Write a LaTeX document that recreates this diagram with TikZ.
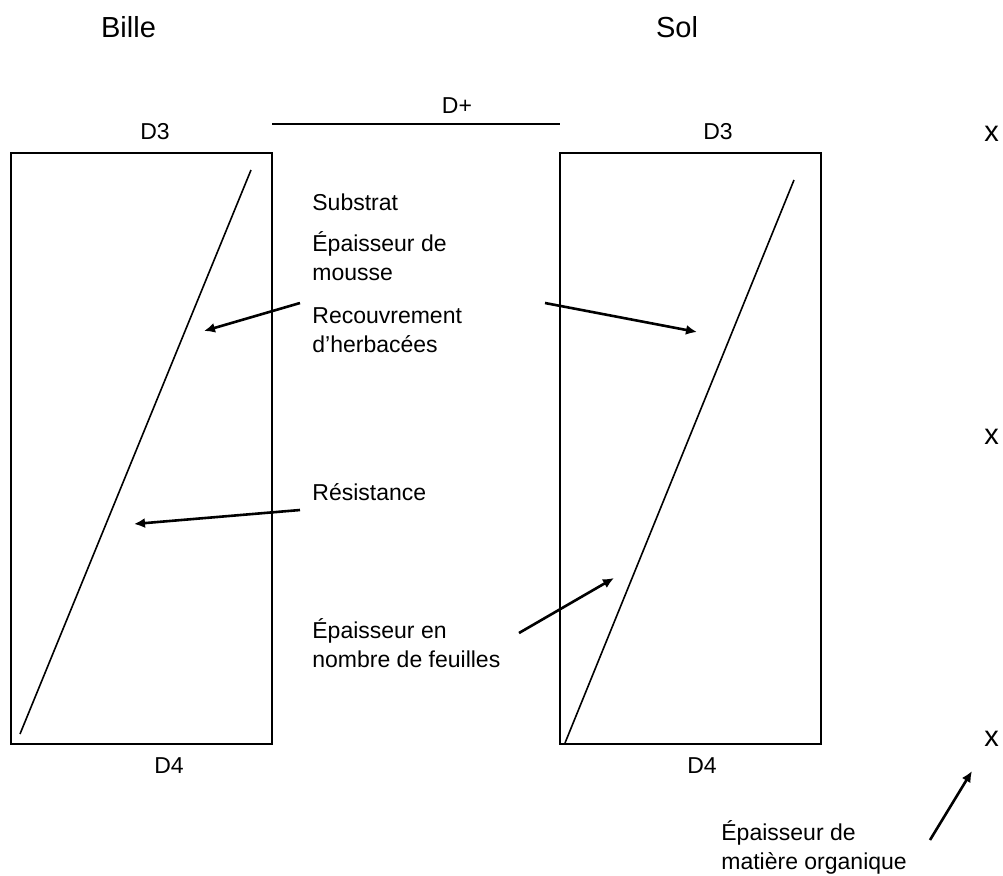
\documentclass[tikz,border=0pt]{standalone}
\usepackage{fontspec}
\setmainfont{Liberation Sans}
\usetikzlibrary{arrows.meta}

\begin{document}
\begin{tikzpicture}[x=0.5pt,y=-0.5pt,
  title node/.style={font=\fontsize{14.5}{17}\selectfont,inner sep=0pt,anchor=base},
  end node/.style={font=\fontsize{11.5}{14}\selectfont,inner sep=0pt,anchor=base},
  text node/.style={font=\fontsize{11.5}{14.25}\selectfont,inner sep=0pt,anchor=base west,align=left},
  box node/.style={draw,line width=1pt,inner sep=0pt,minimum width=130.5pt,minimum height=295.5pt},
  slope/.style={line width=0.8pt},
  arrow/.style={-{Latex[length=5.5pt,width=5pt]},line width=1.3pt}]

\useasboundingbox (0,0) rectangle (1003,875);

\node[title node] (bille) at (128.5,37) {Bille};
\node[title node] (sol) at (677,37) {Sol};
\node[end node] (dplus) at (457,113) {D+};

\node[box node] (lbox) at (141.5,448.5) {};
\node[box node] (rbox) at (690.5,448.5) {};

\node[end node] (ld3) at (155,139) {D3};
\node[end node] (rd3) at (718,139) {D3};
\node[end node] (ld4) at (169,773) {D4};
\node[end node] (rd4) at (702,773) {D4};

\node[title node] (x1) at (991.5,141) {x};
\node[title node] (x2) at (991.5,444) {x};
\node[title node] (x3) at (991.5,746) {x};

% multi-line nodes sit on their last line
\node[text node] (sub) at (312,210) {Substrat};
\node[text node] (mousse) at (312,280) {Épaisseur de\\mousse};
\node[text node] (recouv) at (312,352) {Recouvrement\\d’herbacées};
\node[text node] (resist) at (312,500) {Résistance};
\node[text node] (feuil) at (312,667) {Épaisseur en\\nombre de feuilles};
\node[text node] (orga) at (721,869) {Épaisseur de\\matière organique};

\coordinate (dl) at (272,124);
\coordinate (dr) at (560,124);
\coordinate (b0) at (20,734);
\coordinate (b1) at (251,170);
\coordinate (s0) at (565,743);
\coordinate (s1) at (794,180);

\coordinate (t1) at (300,303);
\coordinate (h1) at (204,331);
\coordinate (t2) at (545,303);
\coordinate (h2) at (697,332);
\coordinate (t3) at (300,510);
\coordinate (h3) at (134,524);
\coordinate (t4) at (519,633);
\coordinate (h4) at (614,578);
\coordinate (t5) at (930,840);
\coordinate (h5) at (972,771);

\path[] (dl) [-,line width=1pt] edge (dr);
\path[] (b0) [-,slope] edge (b1);
\path[] (s0) [-,slope] edge (s1);

\path[] (t1) [arrow] edge (h1);
\path[] (t2) [arrow] edge (h2);
\path[] (t3) [arrow] edge (h3);
\path[] (t4) [arrow] edge (h4);
\path[] (t5) [arrow] edge (h5);

\end{tikzpicture}
\end{document}
